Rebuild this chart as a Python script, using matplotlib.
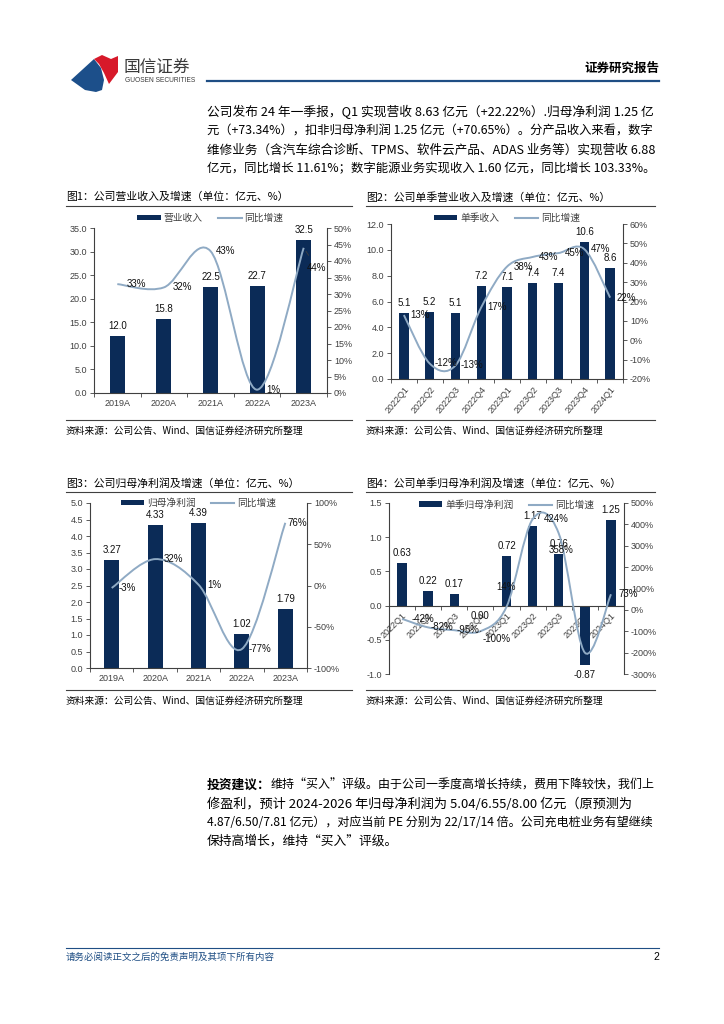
import numpy as np
import matplotlib
matplotlib.use("Agg")
import matplotlib.pyplot as plt
from matplotlib.patches import Patch, PathPatch, Polygon
from matplotlib.lines import Line2D
from matplotlib.path import Path

plt.rcParams['font.family'] = ['Liberation Sans', 'Noto Sans CJK SC', 'DejaVu Sans']
CJK = ['Noto Sans CJK SC', 'DejaVu Sans']

# --- data ---
cats1 = ['2019A', '2020A', '2021A', '2022A', '2023A']
rev1 = [12.0, 15.8, 22.5, 22.7, 32.5]
yoy1 = [33, 32, 43, 1, 44]

cats2 = ['2022Q1', '2022Q2', '2022Q3', '2022Q4', '2023Q1', '2023Q2', '2023Q3', '2023Q4', '2024Q1']
rev2 = [5.1, 5.2, 5.1, 7.2, 7.1, 7.4, 7.4, 10.6, 8.6]
yoy2 = [13, -12, -13, 17, 38, 43, 45, 47, 22]

cats3 = ['2019A', '2020A', '2021A', '2022A', '2023A']
np3 = [3.27, 4.33, 4.39, 1.02, 1.79]
yoy3 = [-3, 32, 1, -77, 76]

cats4 = cats2
np4 = [0.63, 0.22, 0.17, 0.00, 0.72, 1.17, 0.76, -0.87, 1.25]
yoy4 = [-42, -82, -95, -100, 14, 424, 358, -200, 73]

para1 = ["公司发布 24 年一季报，Q1 实现营收 8.63 亿元（+22.22%）.归母净利润 1.25 亿",
         "元（+73.34%），扣非归母净利润 1.25 亿元（+70.65%）。分产品收入来看，数字",
         "维修业务（含汽车综合诊断、TPMS、软件云产品、ADAS 业务等）实现营收 6.88",
         "亿元，同比增长 11.61%；数字能源业务实现收入 1.60 亿元，同比增长 103.33%。"]
para2_head = "投资建议："
para2 = ["维持“买入”评级。由于公司一季度高增长持续，费用下降较快，我们上",
         "修盈利，预计 2024-2026 年归母净利润为 5.04/6.55/8.00 亿元（原预测为",
         "4.87/6.50/7.81 亿元），对应当前 PE 分别为 22/17/14 倍。公司充电桩业务有望继续",
         "保持高增长，维持“买入”评级。"]
source = "资料来源：公司公告、Wind、国信证券经济研究所整理"

NAVY = '#0b2b57'
LINE = '#8faac4'
BLUE = '#1f4e84'
W, H = 724, 1024

fig = plt.figure(figsize=(7.24, 10.24), dpi=100)
renderer = fig.canvas.get_renderer()


def fx(x):
    return x / W


def fy(y):
    return 1 - y / H


def hline(x0, x1, y, color='#404040', lw=0.8):
    fig.add_artist(Line2D([fx(x0), fx(x1)], [fy(y), fy(y)], transform=fig.transFigure, color=color, lw=lw))


def smooth(ys):
    # Excel-style smoothed line through the points (cubic bezier segments)
    pts = np.column_stack([np.arange(len(ys)), ys]).astype(float)
    verts = [pts[0]]
    codes = [Path.MOVETO]
    n = len(pts)
    for i in range(n - 1):
        p0, p1, p2, p3 = pts[max(i - 1, 0)], pts[i], pts[i + 1], pts[min(i + 2, n - 1)]
        verts += [p1 + (p2 - p0) / 6, p2 - (p3 - p1) / 6, p2]
        codes += [Path.CURVE4] * 3
    return Path(verts, codes)


def chart(box, cats, bars, yoy, names, ylim, ystep, yfmt, glim, gstep, width, vfmt,
          goffs, leg_xy, rot=0, zero=False, leaders=()):
    x0, y0, x1, y1 = box
    ax = fig.add_axes([fx(x0), fy(y1), (x1 - x0) / W, (y1 - y0) / H])
    if zero:
        ax.spines['bottom'].set_position(('data', 0))
    x = np.arange(len(cats))
    ax.bar(x, bars, width=width, color=NAVY, zorder=2)
    ax.set_xlim(-0.5, len(cats) - 0.5)
    ax.set_ylim(*ylim)
    yt = np.arange(ylim[0], ylim[1] + ystep / 2, ystep)
    ax.set_yticks(yt)
    ax.set_yticklabels([yfmt.format(v) for v in yt])
    ax.set_xticks(x)
    ax.set_xticklabels(cats)
    ax.set_xticks(np.arange(len(cats) + 1) - 0.5, minor=True)
    ax.tick_params(axis='x', which='major', length=0, pad=4, labelsize=6.5, labelcolor='#404040')
    ax.tick_params(axis='x', which='minor', length=3, width=0.6, color='#404040')
    ax.tick_params(axis='y', length=3, width=0.6, pad=2, labelsize=6.5, labelcolor='#404040', color='#404040')
    if rot:
        plt.setp(ax.get_xticklabels(), rotation=rot, ha='right', va='top', rotation_mode='anchor')
    for s in ['top', 'right']:
        ax.spines[s].set_visible(False)
    for s in ['left', 'bottom']:
        ax.spines[s].set_color('#404040')
        ax.spines[s].set_linewidth(0.8)
    for i, v in enumerate(bars):
        off = 10 if v > 0 else -10
        ax.annotate(vfmt.format(v), (i, v), xytext=(0, off), textcoords='offset pixels',
                    ha='center', va='center', fontsize=7, color='#111111')

    ax2 = ax.twinx()
    ax2.set_ylim(*glim)
    gt = np.arange(glim[0], glim[1] + gstep / 2, gstep)
    ax2.set_yticks(gt)
    ax2.set_yticklabels(['{:d}%'.format(int(v)) for v in gt])
    ax2.tick_params(axis='y', length=3, width=0.6, pad=2, labelsize=6.5, labelcolor='#404040', color='#404040')
    for s in ['top', 'left', 'bottom']:
        ax2.spines[s].set_visible(False)
    ax2.spines['right'].set_color('#404040')
    ax2.spines['right'].set_linewidth(0.8)
    ax2.add_patch(PathPatch(smooth(yoy), fill=False, ec=LINE, lw=1.4, zorder=3))
    for i, (g, o) in enumerate(zip(yoy, goffs)):
        if o is None:
            continue
        kw = {}
        if i in leaders:
            kw['arrowprops'] = dict(arrowstyle='-', color='#404040', lw=0.6, shrinkA=4, shrinkB=3)
        ax2.annotate('{}%'.format(g), (i, g), xytext=o, textcoords='offset pixels',
                     ha='center', va='center', fontsize=7, color='#111111', zorder=5, **kw)
    handles = [Patch(facecolor=NAVY, edgecolor='none'), Line2D([0], [0], color=LINE, lw=1.5)]
    ax2.legend(handles, names, loc='center', bbox_to_anchor=leg_xy, ncol=2, frameon=False,
               fontsize=7, handlelength=2.4, handleheight=0.5, handletextpad=0.3,
               columnspacing=1.6, labelcolor='#404040', borderpad=0.2)
    return ax, ax2


# --- header ---
red = [(94, 59), (102, 55), (111, 59), (118, 56), (118, 72), (109, 84), (104, 73), (99, 64)]
blue = [(71, 80), (94, 59), (101, 68), (104, 80), (102, 90), (96, 92), (85, 90)]
fig.add_artist(Polygon([(fx(a), fy(b)) for a, b in blue], closed=True, transform=fig.transFigure,
                       facecolor='#1c4f8a', edgecolor='none'))
fig.add_artist(Polygon([(fx(a), fy(b)) for a, b in red], closed=True, transform=fig.transFigure,
                       facecolor='#d7192a', edgecolor='none'))
fig.text(fx(124), fy(67), "国信证券", fontsize=12, family=CJK, color='#3a3a3a', va='center')
fig.text(fx(125), fy(81), "GUOSEN SECURITIES", fontsize=4.8, color='#3a3a3a', va='center')
fig.text(fx(659), fy(68), "证券研究报告", fontsize=9, family=CJK, fontweight='bold', ha='right', va='center')
hline(207, 659, 81, color=BLUE, lw=1.6)


def put_line(x, y, s, size, target=None, weight='normal'):
    t = fig.text(fx(x), fy(y), s, fontsize=size, family=CJK, va='center', fontweight=weight)
    if target is not None:
        w = t.get_window_extent(renderer).width
        t.set_fontsize(size * min(max(target / w, 0.92), 1.03))
    return t


ys1 = [112, 131, 150, 169]
for s, y in zip(para1, ys1):
    put_line(207, y, s, 9.2, target=653 - 207)

ys2 = [785, 804, 823, 841]
head = put_line(207, ys2[0], para2_head, 9.2, weight='bold')
hw = head.get_window_extent(renderer).width
put_line(207 + hw, ys2[0], para2[0], 9.2, target=653 - 207 - hw)
put_line(207, ys2[1], para2[1], 9.2, target=653 - 207)
put_line(207, ys2[2], para2[2], 9.2, target=653 - 207)
put_line(207, ys2[3], para2[3], 9.2)

# --- chart frames ---
titles = [("图1：公司营业收入及增速（单位：亿元、%）", 66, 197, 352),
          ("图2：公司单季营业收入及增速（单位：亿元、%）", 366, 197, 655),
          ("图3：公司归母净利润及增速（单位：亿元、%）", 66, 483, 352),
          ("图4：公司单季归母净利润及增速（单位：亿元、%）", 366, 483, 655)]
for txt, x, y, xe in titles:
    fig.text(fx(x), fy(y), txt, fontsize=7.8, family=CJK, va='center')
    hline(x, xe, y + 9)
    sy = 420 if y < 300 else 690
    hline(x, xe, sy)
    fig.text(fx(x), fy(sy + 11), source, fontsize=7, family=CJK, va='center')

chart((94, 228, 327, 393), cats1, rev1, yoy1, ['营业收入', '同比增速'], (0, 35), 5, '{:.1f}',
      (0, 50), 5, 0.32, '{:.1f}', [(19, 0), (19, 0), (15, 0), (16, 0), (13, -20)], (0.5, 1.06),
      leaders=(4,))
chart((391, 224, 623, 379), cats2, rev2, yoy2, ['单季收入', '同比增速'], (0, 12), 2, '{:.1f}',
      (-20, 60), 10, 0.36, '{:.1f}', [(16, 0)] * 9, (0.5, 1.04), rot=50)
chart((90, 503, 307, 668), cats3, np3, yoy3, ['归母净利润', '同比增速'], (0, 5), 0.5, '{:.1f}',
      (-100, 100), 50, 0.35, '{:.2f}', [(16, 0), (18, 0), (16, 0), (18, 0), (12, 0)], (0.5, 1.0))
chart((389, 503, 624, 674), cats4, np4, yoy4, ['单季归母净利润', '同比增速'], (-1.0, 1.5), 0.5, '{:.1f}',
      (-300, 500), 100, 0.36, '{:.2f}',
      [(21, 0), (14, 0), (14, 0), (16, -8), (0, 20), (24, 0), (2, -17), None, (17, 0)], (0.5, 0.99),
      rot=45, zero=True, leaders=(3,))

# --- footer ---
hline(66, 659, 948, color=BLUE, lw=0.8)
fig.text(fx(66), fy(957), "请务必阅读正文之后的免责声明及其项下所有内容", fontsize=6.8, family=CJK,
         style='italic', color=BLUE, va='center')
fig.text(fx(659), fy(957), "2", fontsize=7.5, ha='right', va='center')

fig.savefig('out.png', dpi=100)
